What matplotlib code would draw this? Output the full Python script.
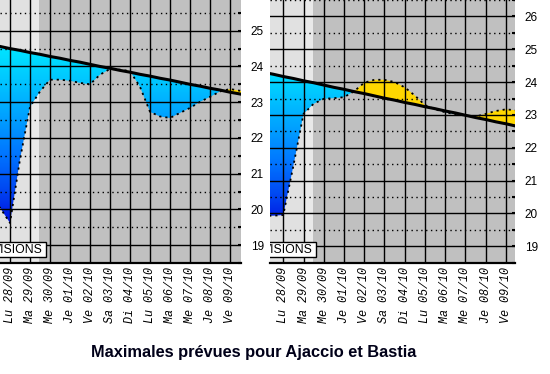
import numpy as np
import matplotlib.pyplot as plt
from matplotlib.colors import LinearSegmentedColormap
from matplotlib.patches import PathPatch, Rectangle
from matplotlib.path import Path

# half-day positions (0 = Lu 28/09)
days = np.array([-1.0, -0.5, 0, 0.5, 1, 1.5, 2, 2.5, 3, 3.5, 4, 4.5, 5, 5.5,
                 6, 6.5, 7, 7.5, 8, 8.5, 9, 9.5, 10, 10.5, 11, 11.5, 12])

day_labels = ["Lu 28/09", "Ma 29/09", "Me 30/09", "Je 01/10", "Ve 02/10", "Sa 03/10",
              "Di 04/10", "Lu 05/10", "Ma 06/10", "Me 07/10", "Je 08/10", "Ve 09/10"]

# Ajaccio: normales (straight black line) and forecast maxima
normal_ajaccio = np.array([24.62, 24.56, 24.50, 24.45, 24.39, 24.34, 24.28, 24.23, 24.17,
                           24.12, 24.06, 24.00, 23.95, 23.89, 23.84, 23.78, 23.73, 23.67,
                           23.62, 23.56, 23.50, 23.45, 23.39, 23.34, 23.28, 23.23, 23.17])
prev_ajaccio = np.array([20.3, 20.05, 19.62, 21.4, 22.87, 23.3, 23.63, 23.63, 23.6,
                         23.54, 23.5, 23.77, 23.93, 23.91, 23.87, 23.43, 22.73, 22.6,
                         22.56, 22.7, 22.84, 23.01, 23.15, 23.3, 23.37, 23.32, 23.25])

# Bastia
normal_bastia = np.array([24.30, 24.24, 24.17, 24.11, 24.04, 23.98, 23.91, 23.84, 23.78,
                          23.71, 23.65, 23.58, 23.51, 23.45, 23.38, 23.32, 23.25, 23.19,
                          23.12, 23.06, 22.99, 22.92, 22.86, 22.79, 22.73, 22.66, 22.60])
prev_bastia = np.array([19.93, 19.93, 19.95, 21.45, 23.03, 23.34, 23.49, 23.51, 23.54,
                        23.72, 23.98, 24.07, 24.07, 24.0, 23.84, 23.59, 23.3, 23.17,
                        23.08, 23.02, 22.98, 22.95, 23.03, 23.12, 23.17, 23.14, 23.1])

blues = LinearSegmentedColormap.from_list(
    "froid", ["#0010e0", "#0048f2", "#0074ff", "#009cff", "#00c0ff", "#00e0ff"])


def panel(ax, normal, prev, xlim, ylim, yticks):
    ax.set_xlim(*xlim)
    ax.set_ylim(*ylim)

    # past days in light grey, forecast period in darker grey
    ax.axvspan(xlim[0], 1.0, color="#e1e1e1", lw=0, zorder=0)
    ax.axvspan(1.0, 1.46, color="#e9e9e9", lw=0, zorder=0)
    ax.axvspan(1.46, xlim[1], color="#c0c0c0", lw=0, zorder=0)

    # below normal -> blue gradient
    below = ax.fill_between(days, prev, normal, where=prev < normal, interpolate=True,
                            facecolor="none", edgecolor="none")
    clip = PathPatch(Path.make_compound_path(*below.get_paths()), transform=ax.transData,
                     facecolor="none", edgecolor="none")
    ax.add_patch(clip)
    grad = np.linspace(ylim[0], ylim[1], 200).reshape(-1, 1)
    im = ax.imshow(grad, cmap=blues, vmin=19.6, vmax=24.4, origin="lower", aspect="auto",
                   extent=[xlim[0], xlim[1], ylim[0], ylim[1]], zorder=1)
    im.set_clip_path(clip)

    # above normal -> yellow
    ax.fill_between(days, prev, normal, where=prev > normal, interpolate=True,
                    color="#ffd700", lw=0, zorder=1)

    ax.plot(days, prev, color="black", lw=1.3, dashes=(1.2, 2.2), zorder=4)
    ax.plot(days, normal, color="black", lw=2.2, zorder=5)

    # grid: solid on days / integers, dotted on half degrees
    ax.set_axisbelow(False)
    ax.set_xticks(range(len(day_labels)))
    ax.set_xticklabels(day_labels, rotation=90, fontstyle="italic",
                       family="Liberation Mono", fontsize=8.5)
    ax.set_yticks(yticks)
    ax.set_yticks(np.arange(yticks[0] - 0.5, yticks[-1] + 1, 1.0), minor=True)
    ax.grid(True, which="major", color="black", lw=1.0)
    ax.grid(True, which="minor", axis="y", color="black", lw=1.0, dashes=(1, 2.5))
    ax.tick_params(axis="x", length=0, pad=3)
    ax.tick_params(axis="y", which="both", direction="in", length=2.5, width=1.5,
                   left=False, right=True, labelleft=False, labelright=True,
                   labelsize=8.5, pad=7)
    for lab in ax.get_yticklabels():
        lab.set_family("Liberation Sans")

    for side in ["left", "top", "right"]:
        ax.spines[side].set_visible(False)
    ax.spines["bottom"].set_linewidth(1.6)

    # "PREVISIONS" box, cut by the left edge of the panel
    ax.add_patch(Rectangle((-0.3, 0.023), 0.3 + 0.19, 0.057, transform=ax.transAxes,
                           facecolor="white", edgecolor="black", lw=1, zorder=6))
    ax.text(0.178, 0.05, "VISIONS", transform=ax.transAxes, ha="right", va="center",
            family="Liberation Sans", fontsize=8.8, clip_on=True, zorder=7)


fig = plt.figure(figsize=(5.5, 3.74), dpi=100)
ax1 = fig.add_axes([0.0, 0.2968, 0.4382, 0.7032])
ax2 = fig.add_axes([0.49, 0.2968, 0.4464, 0.7032])

panel(ax1, normal_ajaccio, prev_ajaccio, (-0.5, 11.55), (18.5, 25.86), range(19, 26))
panel(ax2, normal_bastia, prev_bastia, (-0.68, 11.45), (18.49, 26.39), range(19, 27))

fig.text(0.461, 0.057, "Maximales prévues pour Ajaccio et Bastia", ha="center",
         va="center", fontsize=11.8, fontweight="bold", family="Liberation Sans",
         color="#000018")

fig.savefig("out.png", dpi=100)
